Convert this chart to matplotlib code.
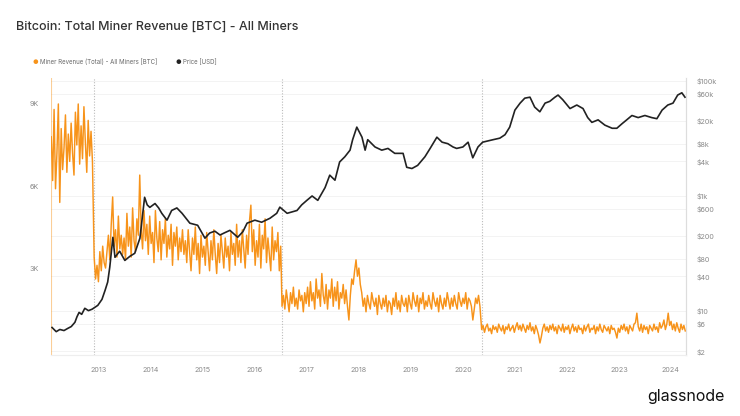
import matplotlib
matplotlib.use("Agg")
import matplotlib.pyplot as plt
import numpy as np
import pandas as pd

plt.rcParams['font.family'] = ['Inter', 'DejaVu Sans']

# ---------------- data ----------------
# Miner revenue (thousand BTC/day), 10-day readings, per halving era
rev_era1_start = "2012-02-01"
rev_era1 = [7.8, 6.2, 8.8, 5.9, 7.2, 9.0, 5.4, 8.1, 6.6,
            7.4, 8.6, 6.5, 7.9, 6.9, 8.3, 7.2, 6.4, 8.7, 7.5, 9.0, 6.8, 8.2, 7.0, 8.9, 7.6, 6.5, 8.4, 7.1, 8.0, 6.9]
rev_era2_start = "2012-11-29"
rev_era2 = [3.4, 2.6, 3.1, 2.5, 3.6, 2.9, 3.8, 3.2, 3.0,
            3.6, 4.2, 3.3, 4.6, 5.6, 3.8, 4.4, 3.4, 4.9, 3.7, 4.2, 3.5,
            4.1, 3.3, 5.0, 3.8, 4.5, 3.4, 5.2, 4.0, 3.6, 4.8, 4.2, 6.4, 4.4, 3.7, 5.1, 4.0,
            4.6, 3.5, 4.9, 3.9, 4.3, 3.2, 5.1, 4.1, 3.6, 4.7, 3.3, 4.4, 3.9, 4.8, 3.4, 4.2, 3.7, 4.6, 3.1, 4.3, 3.8, 4.5, 3.3, 4.1, 3.6, 4.4, 3.5,
            4.0, 3.2, 4.4, 3.6, 2.9, 4.1, 3.5, 4.5, 3.3, 3.9, 2.8, 4.2, 3.4, 3.8, 3.1, 4.3,
            3.6, 2.9, 4.0, 3.3, 4.4, 3.5, 2.8, 3.9, 3.2, 4.2, 3.6, 3.0, 4.1, 3.4, 3.8, 2.9,
            4.3, 3.5, 3.9, 3.1, 4.6, 3.4, 4.0, 3.2, 4.4, 3.7, 3.0, 4.2, 3.5, 4.7,
            5.3,
            3.6, 4.4, 3.1, 4.0, 3.4, 4.6, 3.0, 4.2, 3.7, 4.8, 3.2, 4.1, 3.5, 2.9, 4.5, 3.3, 4.0, 3.6, 4.3, 2.9, 3.8]
rev_era3_start = "2016-07-10"
rev_era3 = [1.6, 2.0, 1.5, 2.2, 1.8, 1.4, 2.1, 1.7, 2.3, 1.6, 1.9, 1.5, 2.2, 1.8, 2.0, 1.4, 2.1, 1.7,
            2.3, 1.6, 2.5, 1.8, 2.1, 1.5, 2.6, 1.9, 2.2, 1.6, 2.8, 2.0, 1.7, 2.4, 1.5, 2.2, 1.9, 2.6, 1.6, 2.3, 1.8, 2.5, 1.5, 2.1, 1.9, 2.4, 1.7, 2.2, 1.6,
            1.1,
            2.0, 2.6, 2.4, 2.9, 3.3, 2.7, 3.0, 2.4,
            2.1, 1.6, 1.9, 1.4, 2.0, 1.7, 1.5, 2.1, 1.8, 1.6, 1.9, 1.3, 2.0, 1.7, 1.5, 1.9,
            1.6, 2.0, 1.4, 1.8, 1.7, 1.3, 1.9, 1.6, 2.1, 1.5, 1.8, 1.4, 2.0, 1.7, 1.6, 1.9,
            1.4, 2.0, 1.7, 1.5, 2.1, 1.8, 1.6, 2.0, 1.4, 1.9, 1.7, 2.1, 1.5, 1.8, 1.6, 2.0,
            1.7, 1.5, 2.1, 1.8, 1.6, 1.9, 1.4, 2.0, 1.7, 1.5, 1.9, 1.6, 2.1, 1.8, 1.5, 1.9,
            1.6, 2.0, 1.7, 1.5, 2.1, 1.8, 1.6, 1.9, 1.7, 2.1, 1.5, 1.9, 1.8, 1.6,
            1.1, 1.5, 1.9, 1.7, 2.0, 1.6]
rev_era4_start = "2020-05-12"
rev_era4 = [0.75, 0.9, 0.65, 0.85, 0.95, 0.7, 0.8, 0.6, 0.9, 0.75, 0.85, 0.65, 0.95, 0.8, 0.7, 0.9, 0.6, 0.85, 0.75, 0.95,
            0.7, 0.8, 0.9, 0.65, 0.85, 1.0, 0.75, 0.9, 0.7, 0.95, 0.8, 0.65, 0.9, 0.75, 1.0, 0.7, 0.85, 0.6, 0.9, 0.75, 0.55,
            0.26,
            0.5, 0.8, 0.95, 0.7, 0.85, 0.65, 0.9, 0.75, 0.95, 0.7, 0.85, 0.6, 0.9, 0.8, 0.7, 0.95, 0.65, 0.85, 0.75, 0.9,
            0.6, 0.8, 0.95, 0.7, 0.85, 0.65, 0.9, 0.75, 0.8, 0.6, 0.9, 0.7, 0.85, 0.95, 0.65, 0.8, 0.75, 0.9, 0.6, 0.85,
            0.7, 0.95, 0.75, 0.65, 0.9, 0.8, 0.7, 0.85, 0.6, 0.9, 0.75, 0.8, 0.65,
            0.44,
            0.8, 0.65, 0.9, 0.75, 0.95, 0.7, 0.85, 0.6, 0.9, 0.8, 0.7, 0.95, 1.0,
            1.35,
            0.85, 0.7, 0.95, 0.65, 0.9, 0.75, 0.85, 0.6, 0.9, 0.8, 0.7, 0.95, 0.75, 0.85, 0.65, 1.0, 0.8, 0.9, 1.1, 0.75, 0.95,
            1.35,
            0.9, 1.05, 0.75, 0.95, 0.7, 1.0, 0.8, 0.65, 0.95, 0.75, 0.9, 0.7]

# BTC price (USD), decimal-year readings
price_year = [2012.10, 2012.18, 2012.25, 2012.33, 2012.40, 2012.47, 2012.54, 2012.58, 2012.62, 2012.67, 2012.73, 2012.80, 2012.87, 2012.98,
              2013.06, 2013.12, 2013.17, 2013.21, 2013.27, 2013.31, 2013.40, 2013.50, 2013.60, 2013.69, 2013.79, 2013.88, 2013.93, 2013.98,
              2014.08, 2014.15, 2014.21, 2014.31, 2014.40, 2014.50, 2014.60, 2014.75, 2014.90,
              2015.04, 2015.13, 2015.23, 2015.33, 2015.42, 2015.52, 2015.67, 2015.77, 2015.85,
              2016.00, 2016.13, 2016.29, 2016.42, 2016.48, 2016.62, 2016.81, 2016.90,
              2017.00, 2017.10, 2017.21, 2017.35, 2017.44, 2017.54, 2017.63, 2017.73, 2017.83, 2017.88, 2017.96,
              2018.06, 2018.12, 2018.17, 2018.31, 2018.44, 2018.56, 2018.69, 2018.85, 2018.92,
              2019.02, 2019.13, 2019.27, 2019.37, 2019.50, 2019.60, 2019.71, 2019.81, 2019.88,
              2020.00, 2020.10, 2020.19, 2020.29, 2020.38, 2020.58, 2020.71, 2020.81, 2020.90,
              2021.00, 2021.10, 2021.19, 2021.29, 2021.38, 2021.48, 2021.58, 2021.67, 2021.77, 2021.83, 2021.92,
              2022.06, 2022.19, 2022.31, 2022.40, 2022.48, 2022.60, 2022.73, 2022.87, 2022.96,
              2023.06, 2023.15, 2023.25, 2023.37, 2023.50, 2023.63, 2023.73, 2023.83, 2023.94,
              2024.04, 2024.13, 2024.21, 2024.27]
price_usd = [5.2, 4.4, 4.8, 4.6, 5.0, 5.4, 6.4, 8.0, 9.5, 8.8, 11.2, 10.2, 10.8, 12.6,
             16, 23, 32, 58, 191, 86, 110, 76, 90, 101, 185, 949, 700, 634,
             740, 620, 500, 380, 560, 620, 500, 337, 310,
             185, 227, 245, 210, 230, 253, 192, 240, 337,
             380, 350, 410, 500, 640, 500, 560, 700,
             840, 1000, 840, 1400, 2300, 1880, 3900, 4800, 6250, 9500, 15700,
             10500, 6250, 9500, 7100, 6250, 6700, 5500, 5500, 3150,
             3000, 3400, 4800, 6700, 10500, 8600, 8100, 7100, 6700,
             7100, 8600, 4600, 7100, 8600, 9500, 10100, 11600, 15700,
             31000, 41000, 50000, 52000, 35000, 29000, 41000, 44000, 52000, 56600, 47000,
             33000, 38000, 33000, 23000, 19000, 21000, 17000, 15000, 15000,
             18000, 21000, 25000, 23000, 25000, 23000, 22000, 31000, 38000,
             41000, 56600, 62000, 52000]

halvings = [2012.91, 2016.52, 2020.36, 2024.30]
year_ticks = list(range(2013, 2025))
left_ticks = [3000, 6000, 9000]
left_labels = ["3K", "6K", "9K"]
right_ticks = [2, 6, 10, 40, 80, 200, 600, 1000, 4000, 8000, 20000, 60000, 100000]
right_labels = ["$2", "$6", "$10", "$40", "$80", "$200", "$600", "$1k", "$4k", "$8k", "$20k", "$60k", "$100k"]

# ---------------- build series ----------------
def dec_year(idx):
    days = np.where(idx.is_leap_year, 366, 365)
    return idx.year + (idx.dayofyear - 1) / days

rev_x, rev_y = [], []
for start, vals in [(rev_era1_start, rev_era1), (rev_era2_start, rev_era2),
                    (rev_era3_start, rev_era3), (rev_era4_start, rev_era4)]:
    idx = pd.date_range(start, periods=len(vals), freq="10D")
    rev_x.extend(dec_year(idx))
    rev_y.extend(np.array(vals) * 1000)

ORANGE = "#f7931a"
XLIM = (2012.08, 2024.29)
PLIM = (1.73, 112000)

fig = plt.figure(figsize=(7.4, 4.16), dpi=100)
rect = [51/740, 1-355/416, (686-51)/740, (355-78)/416]

# background grid axes (below everything)
axg = fig.add_axes(rect)
axg.set_yscale("log")
axg.set_xlim(*XLIM)
axg.set_ylim(*PLIM)
for t in right_ticks:
    axg.axhline(t, color="#f1f1f1", lw=0.6)
for h in halvings:
    axg.axvline(h, color="#bbbbbb", lw=0.8, ls=(0, (1, 1.5)))
axg.axis("off")
axg.set_zorder(0)

ax = fig.add_axes(rect)
ax2 = ax.twinx()

ax.plot(rev_x, rev_y, color=ORANGE, lw=1.05, zorder=3)
ax.set_xlim(*XLIM)
ax.set_ylim(-180, 9950)
ax.axvline(2012.085, color=ORANGE, lw=0.8, alpha=0.45, zorder=2)

ax2.set_yscale("log")
ax2.set_ylim(*PLIM)
ax2.plot(price_year, price_usd, color="#222222", lw=1.2, zorder=4)

ax.set_xticks(year_ticks)
ax.set_xticklabels([str(y) for y in year_ticks])
ax.set_yticks(left_ticks)
ax.set_yticklabels(left_labels)
ax2.set_yticks(right_ticks)
ax2.set_yticklabels(right_labels)
ax2.minorticks_off()

for a in (ax, ax2):
    a.tick_params(length=0, labelsize=5.2, colors="#8a8a8a")
    for s in ("top", "left"):
        a.spines[s].set_visible(False)
    a.spines["right"].set_color("#dddddd")
    a.spines["bottom"].set_color("#eeeeee")
    a.spines["right"].set_linewidth(0.8)
    a.patch.set_visible(False)
ax.tick_params(axis="x", pad=9)
ax.tick_params(axis="y", pad=9)
ax2.tick_params(axis="y", pad=8)
ax.set_zorder(1)
ax2.set_zorder(2)

fig.text(16/740, 1-27/416, "Bitcoin: Total Miner Revenue [BTC] - All Miners",
         fontsize=9.0, color="#333333", va="center", ha="left", fontweight="medium")

# legend
fig.text(35/740, 1-62/416, "\u25CF", color=ORANGE, fontsize=4.5, va="center", ha="center")
fig.text(40/740, 1-62/416, "Miner Revenue (Total) - All Miners [BTC]", color="#6a6a6a", fontsize=4.4, va="center")
fig.text(178/740, 1-62/416, "\u25CF", color="#222222", fontsize=4.5, va="center", ha="center")
fig.text(183/740, 1-62/416, "Price [USD]", color="#6a6a6a", fontsize=4.4, va="center")

fig.text(725/740, 1-397/416, "glassnode", fontsize=11.5, color="#111111", ha="right", va="center")

fig.savefig("out.png", dpi=100)
